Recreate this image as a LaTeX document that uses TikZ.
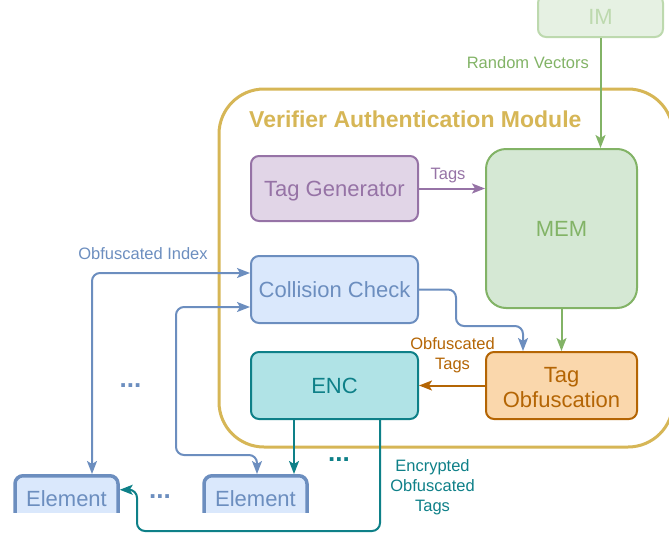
\documentclass[tikz,border=0pt]{standalone}
\usepackage{fontspec}
\setmainfont{Liberation Sans}
\usetikzlibrary{arrows.meta}

\definecolor{purpleFill}{HTML}{E1D5E7}\definecolor{purpleLine}{HTML}{9673A6}
\definecolor{greenFill}{HTML}{D5E8D4}\definecolor{greenLine}{HTML}{82B366}
\definecolor{imFill}{HTML}{E6F1E3}\definecolor{imLine}{HTML}{BDD9AE}
\definecolor{blueFill}{HTML}{DAE8FC}\definecolor{blueLine}{HTML}{6C8EBF}
\definecolor{orangeFill}{HTML}{FAD7AC}\definecolor{orangeLine}{HTML}{B46504}
\definecolor{tealFill}{HTML}{B0E3E6}\definecolor{tealLine}{HTML}{0E8088}
\definecolor{moduleLine}{HTML}{D6B656}

\begin{document}
\begin{tikzpicture}[x=1pt,y=-1pt,
  boxbase/.style={draw, rounded corners=8pt, line width=2pt, inner sep=0pt,
    align=center, font=\fontsize{22}{25}\selectfont},
  box/.style={boxbase, text height=16pt, text depth=0pt},
  elembox/.style={box, line width=3.5pt, minimum width=103pt, minimum height=46pt,
    fill=blueFill, draw=blueLine, text=blueLine, anchor=north},
  lbl/.style={inner sep=0pt, align=center, font=\fontsize{16.5}{20}\selectfont},
  dots/.style={inner sep=0pt, font=\fontsize{26}{30}\selectfont\bfseries},
  link/.style={line width=2pt, rounded corners=8pt},
  tip/.style={-{Stealth[length=13pt,width=10pt,inset=3pt]}},
  bitip/.style={{Stealth[length=13pt,width=10pt,inset=3pt]}-{Stealth[length=13pt,width=10pt,inset=3pt]}}
]
\useasboundingbox (0,0) rectangle (669,533);

% container
\node[draw=moduleLine, line width=3pt, rounded corners=45pt,
  minimum width=454pt, minimum height=358pt, inner sep=0pt] (vam) at (446,268) {};
\node[anchor=west, inner sep=0pt, text=moduleLine,
  font=\fontsize{23}{27}\selectfont\bfseries] (vamtitle) at (249,119) {Verifier Authentication Module};

% blocks
\node[box, fill=imFill, draw=imLine, text=imLine, minimum width=125pt, minimum height=42pt] (IM) at (600.5,16) {IM};
\node[box, fill=purpleFill, draw=purpleLine, text=purpleLine, minimum width=167pt, minimum height=65pt] (TG) at (334.5,188.5) {Tag Generator};
\node[box, rounded corners=20pt, fill=greenFill, draw=greenLine, text=greenLine, minimum width=151pt, minimum height=159pt] (MEM) at (561.5,228.5) {MEM};
\node[box, fill=blueFill, draw=blueLine, text=blueLine, minimum width=167pt, minimum height=67pt] (CC) at (334.5,289.5) {Collision Check};
\node[boxbase, text height=43.6pt, text depth=0pt, fill=orangeFill, draw=orangeLine, text=orangeLine, minimum width=151pt, minimum height=67pt] (TO) at (561.5,385.5) {Tag\\Obfuscation};
\node[box, fill=tealFill, draw=tealLine, text=tealLine, minimum width=167pt, minimum height=67pt] (ENC) at (334.5,385.5) {ENC};

% elements, cut off at the lower edge
\begin{scope}
  \clip (0,0) rectangle (669,512);
  \node[elembox] (E1) at (66.5,474) {Element};
  \node[elembox] (E2) at (255.5,474) {Element};
\end{scope}

\node[dots, text=blueLine] (d1) at (130.5,386) {...};
\node[dots, text=blueLine] (d2) at (160,497) {...};
\node[dots, text=tealLine] (d3) at (339,460) {...};

% connectors
\draw[link, tip, greenLine] (IM.south) -- (IM.south |- MEM.north);
\node[lbl, text=greenLine, anchor=east] (rv) at (589,63) {Random Vectors};

\draw[link, tip, purpleLine] (TG.east) -- (TG.east -| MEM.west);
\node[lbl, text=purpleLine] (tagslbl) at (448,176) {Tags};

\draw[link, tip, greenLine] (MEM.south) -- (TO.north);

\coordinate (cc1) at (456,326);
\draw[link, tip, blueLine] (CC.east) -| (cc1) -| ([xshift=-38.5pt]TO.north);

\draw[link, tip, orangeLine] (TO.west) -- (ENC.east);
\node[lbl, text=orangeLine] (otlbl) at (452.5,355.5) {Obfuscated\\Tags};

\draw[link, bitip, blueLine] ([yshift=16.5pt]CC.west) -| ([xshift=25.5pt]E1.north);
\node[lbl, text=blueLine] (oilbl) at (143,254) {Obfuscated Index};

\coordinate (cc2) at (176,455);
\draw[link, bitip, blueLine] ([yshift=-17.5pt]CC.west) -| (cc2) -| ([xshift=1.5pt]E2.north);

\draw[link, tip, tealLine] ([xshift=-40.5pt]ENC.south) -- ([xshift=-40.5pt]ENC.south |- E2.north);

\coordinate (r1) at (137,531);
\draw[link, tip, tealLine] ([xshift=45.5pt]ENC.south) |- (r1) |- ([yshift=9pt]E1.east);
\node[lbl, text=tealLine] (eotlbl) at (432.5,487) {Encrypted\\Obfuscated\\Tags};
\end{tikzpicture}
\end{document}
